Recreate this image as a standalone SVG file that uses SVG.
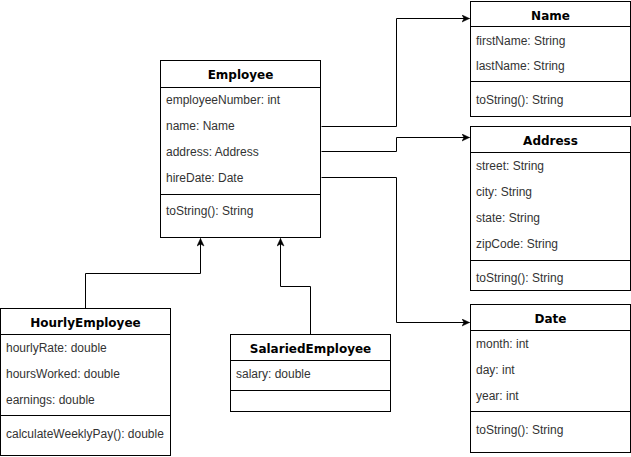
<svg xmlns="http://www.w3.org/2000/svg" width="631" height="457" viewBox="0 0 631 457">
<defs>
<style>
.box{fill:#fff;stroke:#000;stroke-width:1}
.sep{stroke:#000;stroke-width:1;fill:none}
.t{font-family:"Liberation Sans",Arial,sans-serif;font-size:12px;fill:#333}
.h{font-family:"DejaVu Sans",Verdana,sans-serif;font-size:12px;font-weight:bold;fill:#000;text-anchor:middle}
.c{fill:none;stroke:#000;stroke-width:1}
</style>
<marker id="arr" markerWidth="10" markerHeight="8" refX="8" refY="4" orient="auto" markerUnits="userSpaceOnUse">
<path d="M8,4 L0.5,0.5 L2.5,4 L0.5,7.5 Z" fill="#000" stroke="#000" stroke-width="0.5"/>
</marker>
</defs>
<rect width="631" height="457" fill="#fff"/>
<g id="connectors">
<path class="c" d="M321.5,126.5 H396.5 V18.5 H469.5" marker-end="url(#arr)"/>
<path class="c" d="M321.5,151.5 H396.5 V137.5 H469.5" marker-end="url(#arr)"/>
<path class="c" d="M321.5,177.5 H396.5 V322.5 H469.5" marker-end="url(#arr)"/>
<path class="c" d="M85.5,308.5 V273.5 H200.5 V238.5" marker-end="url(#arr)"/>
<path class="c" d="M310.5,334.5 V286.5 H280.5 V238.5" marker-end="url(#arr)"/>
</g>
<g id="employee">
<rect class="box" x="160.5" y="60.5" width="160" height="177"/>
<line class="sep" x1="160.5" y1="87.5" x2="320.5" y2="87.5"/>
<line class="sep" x1="160.5" y1="194.5" x2="320.5" y2="194.5"/>
<text class="h" x="240.5" y="79">Employee</text>
<text class="t" x="166" y="104">employeeNumber: int</text>
<text class="t" x="166" y="130">name: Name</text>
<text class="t" x="166" y="156">address: Address</text>
<text class="t" x="166" y="182">hireDate: Date</text>
<text class="t" x="166" y="215">toString(): String</text>
</g>
<g id="name">
<rect class="box" x="470.5" y="1.5" width="160" height="115"/>
<line class="sep" x1="470.5" y1="26.5" x2="630.5" y2="26.5"/>
<line class="sep" x1="470.5" y1="81.5" x2="630.5" y2="81.5"/>
<text class="h" x="550.5" y="19.5">Name</text>
<text class="t" x="476" y="45">firstName: String</text>
<text class="t" x="476" y="70">lastName: String</text>
<text class="t" x="476" y="104">toString(): String</text>
</g>
<g id="address">
<rect class="box" x="470.5" y="126.5" width="160" height="164"/>
<line class="sep" x1="470.5" y1="152.5" x2="630.5" y2="152.5"/>
<line class="sep" x1="470.5" y1="260.5" x2="630.5" y2="260.5"/>
<text class="h" x="550.5" y="145">Address</text>
<text class="t" x="476" y="170">street: String</text>
<text class="t" x="476" y="196">city: String</text>
<text class="t" x="476" y="222">state: String</text>
<text class="t" x="476" y="248">zipCode: String</text>
<text class="t" x="476" y="282">toString(): String</text>
</g>
<g id="date">
<rect class="box" x="470.5" y="304.5" width="160" height="148"/>
<line class="sep" x1="470.5" y1="330.5" x2="630.5" y2="330.5"/>
<line class="sep" x1="470.5" y1="411.5" x2="630.5" y2="411.5"/>
<text class="h" x="550.5" y="323">Date</text>
<text class="t" x="476" y="348">month: int</text>
<text class="t" x="476" y="374">day: int</text>
<text class="t" x="476" y="400">year: int</text>
<text class="t" x="476" y="434">toString(): String</text>
</g>
<g id="hourlyEmployee">
<rect class="box" x="0.5" y="308.5" width="170" height="147"/>
<line class="sep" x1="0.5" y1="334.5" x2="170.5" y2="334.5"/>
<line class="sep" x1="0.5" y1="415.5" x2="170.5" y2="415.5"/>
<text class="h" x="85.5" y="327">HourlyEmployee</text>
<text class="t" x="6" y="352">hourlyRate: double</text>
<text class="t" x="6" y="378">hoursWorked: double</text>
<text class="t" x="6" y="404">earnings: double</text>
<text class="t" x="6" y="438">calculateWeeklyPay(): double</text>
</g>
<g id="salariedEmployee">
<rect class="box" x="230.5" y="334.5" width="160" height="77"/>
<line class="sep" x1="230.5" y1="360.5" x2="390.5" y2="360.5"/>
<line class="sep" x1="230.5" y1="390.5" x2="390.5" y2="390.5"/>
<text class="h" x="310.5" y="353">SalariedEmployee</text>
<text class="t" x="236" y="378">salary: double</text>
</g>
</svg>
